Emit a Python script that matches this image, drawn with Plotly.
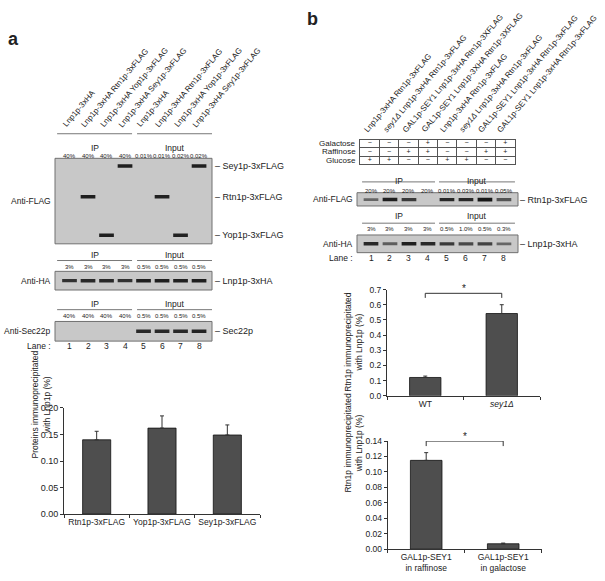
import plotly.graph_objects as go

W, H = 605, 581
FONT = "Arial, Liberation Sans, sans-serif"
INK = "#222222"
BLOT_BG = "#c8c8c8"
BLOT_EDGE = "#707070"
RULE = "#777777"

# ---------------- panel a : blots ----------------
LANES = [1, 2, 3, 4, 5, 6, 7, 8]
LANE_NUMS = ["1", "2", "3", "4", "5", "6", "7", "8"]
A_STRAINS = ["Lnp1p-3xHA", "Lnp1p-3xHA Rtn1p-3xFLAG",
             "Lnp1p-3xHA Yop1p-3xFLAG", "Lnp1p-3xHA Sey1p-3xFLAG"] * 2
A_FLAG_LOAD = ["40%", "40%", "40%", "40%", "0.01%", "0.01%", "0.02%", "0.02%"]
A_HA_LOAD = ["3%", "3%", "3%", "3%", "0.5%", "0.5%", "0.5%", "0.5%"]
A_SEC_LOAD = ["40%", "40%", "40%", "40%", "0.5%", "0.5%", "0.5%", "0.5%"]
A_FLAG_NAMES = ["Sey1p-3xFLAG", "Rtn1p-3xFLAG", "Yop1p-3xFLAG"]
A_FLAG_POS = [0.91, 0.55, 0.10]          # relative migration in the gel
A_FLAG_LANES = [2, 3, 4, 6, 7, 8]
A_FLAG_HIT = ["Rtn1p-3xFLAG", "Yop1p-3xFLAG", "Sey1p-3xFLAG"] * 2
A_FLAG_INT = [0.95, 0.95, 0.95, 0.93, 0.93, 0.95]
A_HA_INT = [0.85, 0.9, 0.9, 0.85, 0.95, 0.95, 0.95, 0.95]
A_SEC_INT = [0, 0, 0, 0, 0.9, 0.9, 0.9, 0.92]

# ---------------- panel a : quantification ----------------
A_CATS = ["Rtn1p-3xFLAG", "Yop1p-3xFLAG", "Sey1p-3xFLAG"]
A_VALS = [0.140, 0.162, 0.149]
A_ERR = [0.016, 0.023, 0.019]

# ---------------- panel b : blots ----------------
B_STRAINS = ["Lnp1p-3xHA Rtn1p-3xFLAG",
             "<i>sey1Δ</i> Lnp1p-3xHA Rtn1p-3xFLAG",
             "GAL1p-SEY1 Lnp1p-3xHA Rtn1p-3XFLAG",
             "GAL1p-SEY1 Lnp1p-3XHA Rtn1p-3XFLAG",
             "Lnp1p-3xHA Rtn1p-3xFLAG",
             "<i>sey1Δ</i> Lnp1p-3xHA Rtn1p-3xFLAG",
             "GAL1p-SEY1 Lnp1p-3xHA Rtn1p-3xFLAG",
             "GAL1p-SEY1 Lnp1p-3xHA Rtn1p-3xFLAG"]
MEDIA = ["Galactose", "Raffinose", "Glucose"]
B_GAL = ["−", "−", "−", "+", "−", "−", "−", "+"]
B_RAF = ["−", "−", "+", "+", "−", "−", "+", "+"]
B_GLU = ["+", "+", "−", "−", "+", "+", "−", "−"]
B_FLAG_LOAD = ["20%", "20%", "20%", "20%", "0.01%", "0.03%", "0.01%", "0.05%"]
B_HA_LOAD = ["3%", "3%", "3%", "3%", "0.5%", "1.0%", "0.5%", "0.3%"]
B_FLAG_INT = [0.55, 0.95, 0.8, 0, 0.9, 0.9, 1.0, 0.65]
B_HA_INT = [0.9, 0.6, 0.95, 0.9, 0.8, 0.72, 0.75, 0.55]

# ---------------- panel b : quantification ----------------
B1_CATS = ["WT", "sey1Δ"]
B1_TICKS = ["WT", "<i>sey1Δ</i>"]
B1_VALS = [0.121, 0.542]
B1_ERR = [0.009, 0.058]
B2_CATS = ["raffinose", "galactose"]
B2_TICKS = ["GAL1p-SEY1<br>in raffinose", "GAL1p-SEY1<br>in galactose"]
B2_VALS = [0.115, 0.007]
B2_ERR = [0.010, 0.0009]


def xd(x0, x1):
    return [x0 / W, x1 / W]


def yd(top, bottom):
    return [1 - bottom / H, 1 - top / H]


def px(x):
    return x / W


def py(y):
    return 1 - y / H


def band_color(i):
    g = int(round(200 - 178 * i))
    return f"rgb({g},{g},{g})"


def band_trace(xa, ya, lanes, pos, inten):
    keep = [k for k, v in enumerate(inten) if v > 0]
    return go.Scatter(
        x=[lanes[k] for k in keep], y=[pos[k] for k in keep],
        xaxis=xa, yaxis=ya, mode="markers", hoverinfo="skip", showlegend=False,
        marker=dict(symbol="line-ew-open", size=10.5,
                    color=[band_color(inten[k]) for k in keep],
                    line=dict(width=[2 + 1.6 * inten[k] for k in keep])),
    )


def bar_trace(xa, ya, cats, vals, err, width):
    return go.Bar(
        x=cats, y=vals, xaxis=xa, yaxis=ya, width=width, showlegend=False,
        marker=dict(color="#4e4e4e", line=dict(color="#111", width=0.8)),
        error_y=dict(type="data", symmetric=False, array=err,
                     arrayminus=[0] * len(err), color="#333", thickness=1, width=2),
    )


fig = go.Figure()

# blots
fig.add_trace(band_trace("x4", "y4", A_FLAG_LANES,
                         [A_FLAG_POS[A_FLAG_NAMES.index(n)] for n in A_FLAG_HIT], A_FLAG_INT))
fig.add_trace(band_trace("x5", "y5", LANES, [0.5] * 8, A_HA_INT))
fig.add_trace(band_trace("x6", "y6", LANES, [0.5] * 8, A_SEC_INT))
fig.add_trace(band_trace("x7", "y7", LANES, [0.48] * 8, B_FLAG_INT))
fig.add_trace(band_trace("x8", "y8", LANES, [0.5] * 8, B_HA_INT))

# growth-medium table
fig.add_trace(go.Scatter(
    x=LANES * 3, y=[2.5] * 8 + [1.5] * 8 + [0.5] * 8,
    text=B_GAL + B_RAF + B_GLU, mode="text", xaxis="x9", yaxis="y9",
    textfont=dict(family=FONT, size=7, color=INK), hoverinfo="skip", showlegend=False,
))

# bar charts
fig.add_trace(bar_trace("x", "y", A_CATS, A_VALS, A_ERR, 0.43))
fig.add_trace(bar_trace("x2", "y2", B1_CATS, B1_VALS, B1_ERR, 0.41))
fig.add_trace(bar_trace("x3", "y3", B2_CATS, B2_VALS, B2_ERR, 0.41))

# significance brackets
fig.add_trace(go.Scatter(
    x=[B1_CATS[0], B1_CATS[0], B1_CATS[1], B1_CATS[1]], y=[0.645, 0.675, 0.675, 0.645],
    xaxis="x2", yaxis="y2", mode="lines", line=dict(color="#333", width=1),
    hoverinfo="skip", showlegend=False))
fig.add_trace(go.Scatter(
    x=[B2_CATS[0], B2_CATS[0], B2_CATS[1], B2_CATS[1]], y=[0.1335, 0.14, 0.14, 0.1335],
    xaxis="x3", yaxis="y3", mode="lines", line=dict(color="#333", width=1),
    hoverinfo="skip", showlegend=False))

axis_font = dict(family=FONT, size=9, color=INK)
cat_axis = dict(type="category", tickson="boundaries", ticks="outside", ticklen=3,
                tickcolor="#333", showline=True, linecolor="#333", linewidth=1,
                showgrid=False, tickangle=0, fixedrange=True,
                tickfont=dict(family=FONT, size=8.5, color=INK))
val_axis = dict(ticks="outside", ticklen=3, tickcolor="#333", showline=True,
                linecolor="#333", linewidth=1, showgrid=False, zeroline=False,
                fixedrange=True, tickfont=axis_font)
hidden = dict(visible=False, fixedrange=True)

fig.update_layout(
    width=W, height=H, margin=dict(l=0, r=0, t=0, b=0),
    paper_bgcolor="white", plot_bgcolor="white", showlegend=False,
    font=dict(family=FONT, color=INK),
    xaxis=dict(cat_axis, domain=xd(64, 260), anchor="y",
               tickvals=A_CATS, ticktext=A_CATS),
    yaxis=dict(val_axis, domain=yd(410, 518), anchor="x", range=[0, 0.2],
               dtick=0.05, tickformat=".2f"),
    xaxis2=dict(cat_axis, domain=xd(387, 540), anchor="y2",
                tickvals=B1_CATS, ticktext=B1_TICKS),
    yaxis2=dict(val_axis, domain=yd(289.5, 397.7), anchor="x2", range=[0, 0.7],
                dtick=0.1, tickformat=".1f", tickfont=dict(family=FONT, size=8.5, color=INK)),
    xaxis3=dict(cat_axis, domain=xd(387.7, 541.7), anchor="y3",
                tickvals=B2_CATS, ticktext=B2_TICKS),
    yaxis3=dict(val_axis, domain=yd(443.7, 553.7), anchor="x3", range=[0, 0.14],
                dtick=0.02, tickformat=".2f", tickfont=dict(family=FONT, size=8.5, color=INK)),
    xaxis4=dict(hidden, domain=xd(55, 212), anchor="y4", range=[0.216, 8.70]),
    yaxis4=dict(hidden, domain=yd(156, 243), anchor="x4", range=[0, 1]),
    xaxis5=dict(hidden, domain=xd(55, 212), anchor="y5", range=[0.216, 8.70]),
    yaxis5=dict(hidden, domain=yd(271, 290), anchor="x5", range=[0, 1]),
    xaxis6=dict(hidden, domain=xd(55, 212), anchor="y6", range=[0.216, 8.70]),
    yaxis6=dict(hidden, domain=yd(322, 342), anchor="x6", range=[0, 1]),
    xaxis7=dict(hidden, domain=xd(357, 518), anchor="y7", range=[0.263, 8.74]),
    yaxis7=dict(hidden, domain=yd(191, 204.5), anchor="x7", range=[0, 1]),
    xaxis8=dict(hidden, domain=xd(357, 518), anchor="y8", range=[0.263, 8.74]),
    yaxis8=dict(hidden, domain=yd(234, 252), anchor="x8", range=[0, 1]),
    xaxis9=dict(domain=xd(360, 515), anchor="y9", range=[0.5, 8.5], fixedrange=True,
                tickvals=[1.5, 2.5, 3.5, 4.5, 5.5, 6.5, 7.5], showticklabels=False,
                showgrid=True, gridcolor="#555", gridwidth=0.8, zeroline=False,
                showline=True, mirror=True, linecolor="#555", linewidth=0.8),
    yaxis9=dict(domain=yd(137, 162), anchor="x9", range=[0, 3], fixedrange=True,
                tickvals=[1, 2], showticklabels=False,
                showgrid=True, gridcolor="#555", gridwidth=0.8, zeroline=False,
                showline=True, mirror=True, linecolor="#555", linewidth=0.8),
)

# blot backgrounds
for n in ["4", "5", "6", "7", "8"]:
    fig.add_shape(type="rect", xref=f"x{n} domain", yref=f"y{n} domain",
                  x0=0, x1=1, y0=0, y1=1, fillcolor=BLOT_BG,
                  line=dict(color=BLOT_EDGE, width=1), layer="below")

ann = []


def label(x, y, text, size=8.5, xref="paper", yref="paper", **kw):
    ann.append(dict(x=x, y=y, xref=xref, yref=yref, text=text, showarrow=False,
                    font=dict(family=FONT, size=size, color=INK), **kw))


# panel letters
label(px(6), py(22), "<b>a</b>", size=18, xanchor="left", yanchor="top")
label(px(305), py(2), "<b>b</b>", size=18, xanchor="left", yanchor="top")

# rotated strain headers
for lane, s in zip(LANES, A_STRAINS):
    label(lane, py(129), s, size=8, xref="x4", xanchor="left", yanchor="bottom",
          textangle=-50, xshift=-11)
for lane, s in zip(LANES, B_STRAINS):
    label(lane, py(134), s, size=8, xref="x7", xanchor="left", yanchor="bottom",
          textangle=-50, xshift=-11)


def section(xa, ip_span, in_span, rule_y, text_y, load_y, loads):
    for span, t in [(ip_span, "IP"), (in_span, "Input")]:
        fig.add_shape(type="line", xref=xa, yref="paper", x0=span[0], x1=span[1],
                      y0=py(rule_y), y1=py(rule_y), line=dict(color=RULE, width=1))
        label((span[0] + span[1]) / 2, py(text_y), t, size=8.5, xref=xa)
    for lane, t in zip(LANES, loads):
        label(lane, py(load_y), t, size=6, xref=xa)


A_IP, A_IN = (0.33, 4.38), (4.65, 8.70)
B_IP, B_IN = (0.53, 4.37), (4.58, 8.58)
section("x4", A_IP, A_IN, 131, 138, 149, A_FLAG_LOAD)
section("x5", A_IP, A_IN, 260, 254, 267, A_HA_LOAD)
section("x6", A_IP, A_IN, 310, 304, 316, A_SEC_LOAD)
section("x7", B_IP, B_IN, 180, 172, 184, B_FLAG_LOAD)
section("x8", B_IP, B_IN, 222, 215, 228, B_HA_LOAD)

# antibody labels (left) and protein labels (right)
for n, t in [("4", "Anti-FLAG"), ("5", "Anti-HA"), ("6", "Anti-Sec22p"),
             ("7", "Anti-FLAG"), ("8", "Anti-HA")]:
    label(0, 0.5, t, size=8.5, xref=f"x{n} domain", yref=f"y{n}", xanchor="right", xshift=-2)
for name, pos in zip(A_FLAG_NAMES, A_FLAG_POS):
    label(1, pos, "– " + name, size=9, xref="x4 domain", yref="y4", xanchor="left", xshift=1)
label(1, 0.5, "– Lnp1p-3xHA", size=9, xref="x5 domain", yref="y5", xanchor="left", xshift=1)
label(1, 0.5, "– Sec22p", size=9, xref="x6 domain", yref="y6", xanchor="left", xshift=1)
label(1, 0.48, "– Rtn1p-3xFLAG", size=9, xref="x7 domain", yref="y7", xanchor="left", xshift=0)
label(1, 0.5, "– Lnp1p-3xHA", size=9, xref="x8 domain", yref="y8", xanchor="left", xshift=0)

# lane numbers
label(px(53), py(347), "Lane :", size=8.5, xanchor="right")
for lane, t in zip(LANES, LANE_NUMS):
    label(lane, py(347), t, size=8.5, xref="x4")
label(px(355), py(257), "Lane :", size=8.5, xanchor="right")
for lane, t in zip(LANES, LANE_NUMS):
    label(lane, py(257), t, size=8.5, xref="x7")

# medium rows
for m, y in zip(MEDIA, [2.5, 1.5, 0.5]):
    label(0, y, m, size=8, xref="x9 domain", yref="y9", xanchor="right", xshift=-2)

# y-axis titles
label(px(28), py(464), "Proteins immunoprecipitated<br>with Lnp1p (%)", size=8.5, textangle=-90)
label(px(354), py(343.6), "Rtn1p immunoprecipitated<br>with Lnp1p (%)", size=8.5, textangle=-90)
label(px(354), py(498.7), "Rtn1p immunoprecipitated<br>with Lnp1p (%)", size=8.5, textangle=-90)

# significance stars
label(0.5, 0.675, "*", size=10, xref="x2", yref="y2", yanchor="bottom", yshift=-3)
label(0.5, 0.14, "*", size=10, xref="x3", yref="y3", yanchor="bottom", yshift=-3)

fig.update_layout(annotations=ann)
fig.write_html(
    "out.html",
    config={"displayModeBar": False},
    post_script="document.body.style.margin='0';document.body.style.overflow='hidden';",
)
